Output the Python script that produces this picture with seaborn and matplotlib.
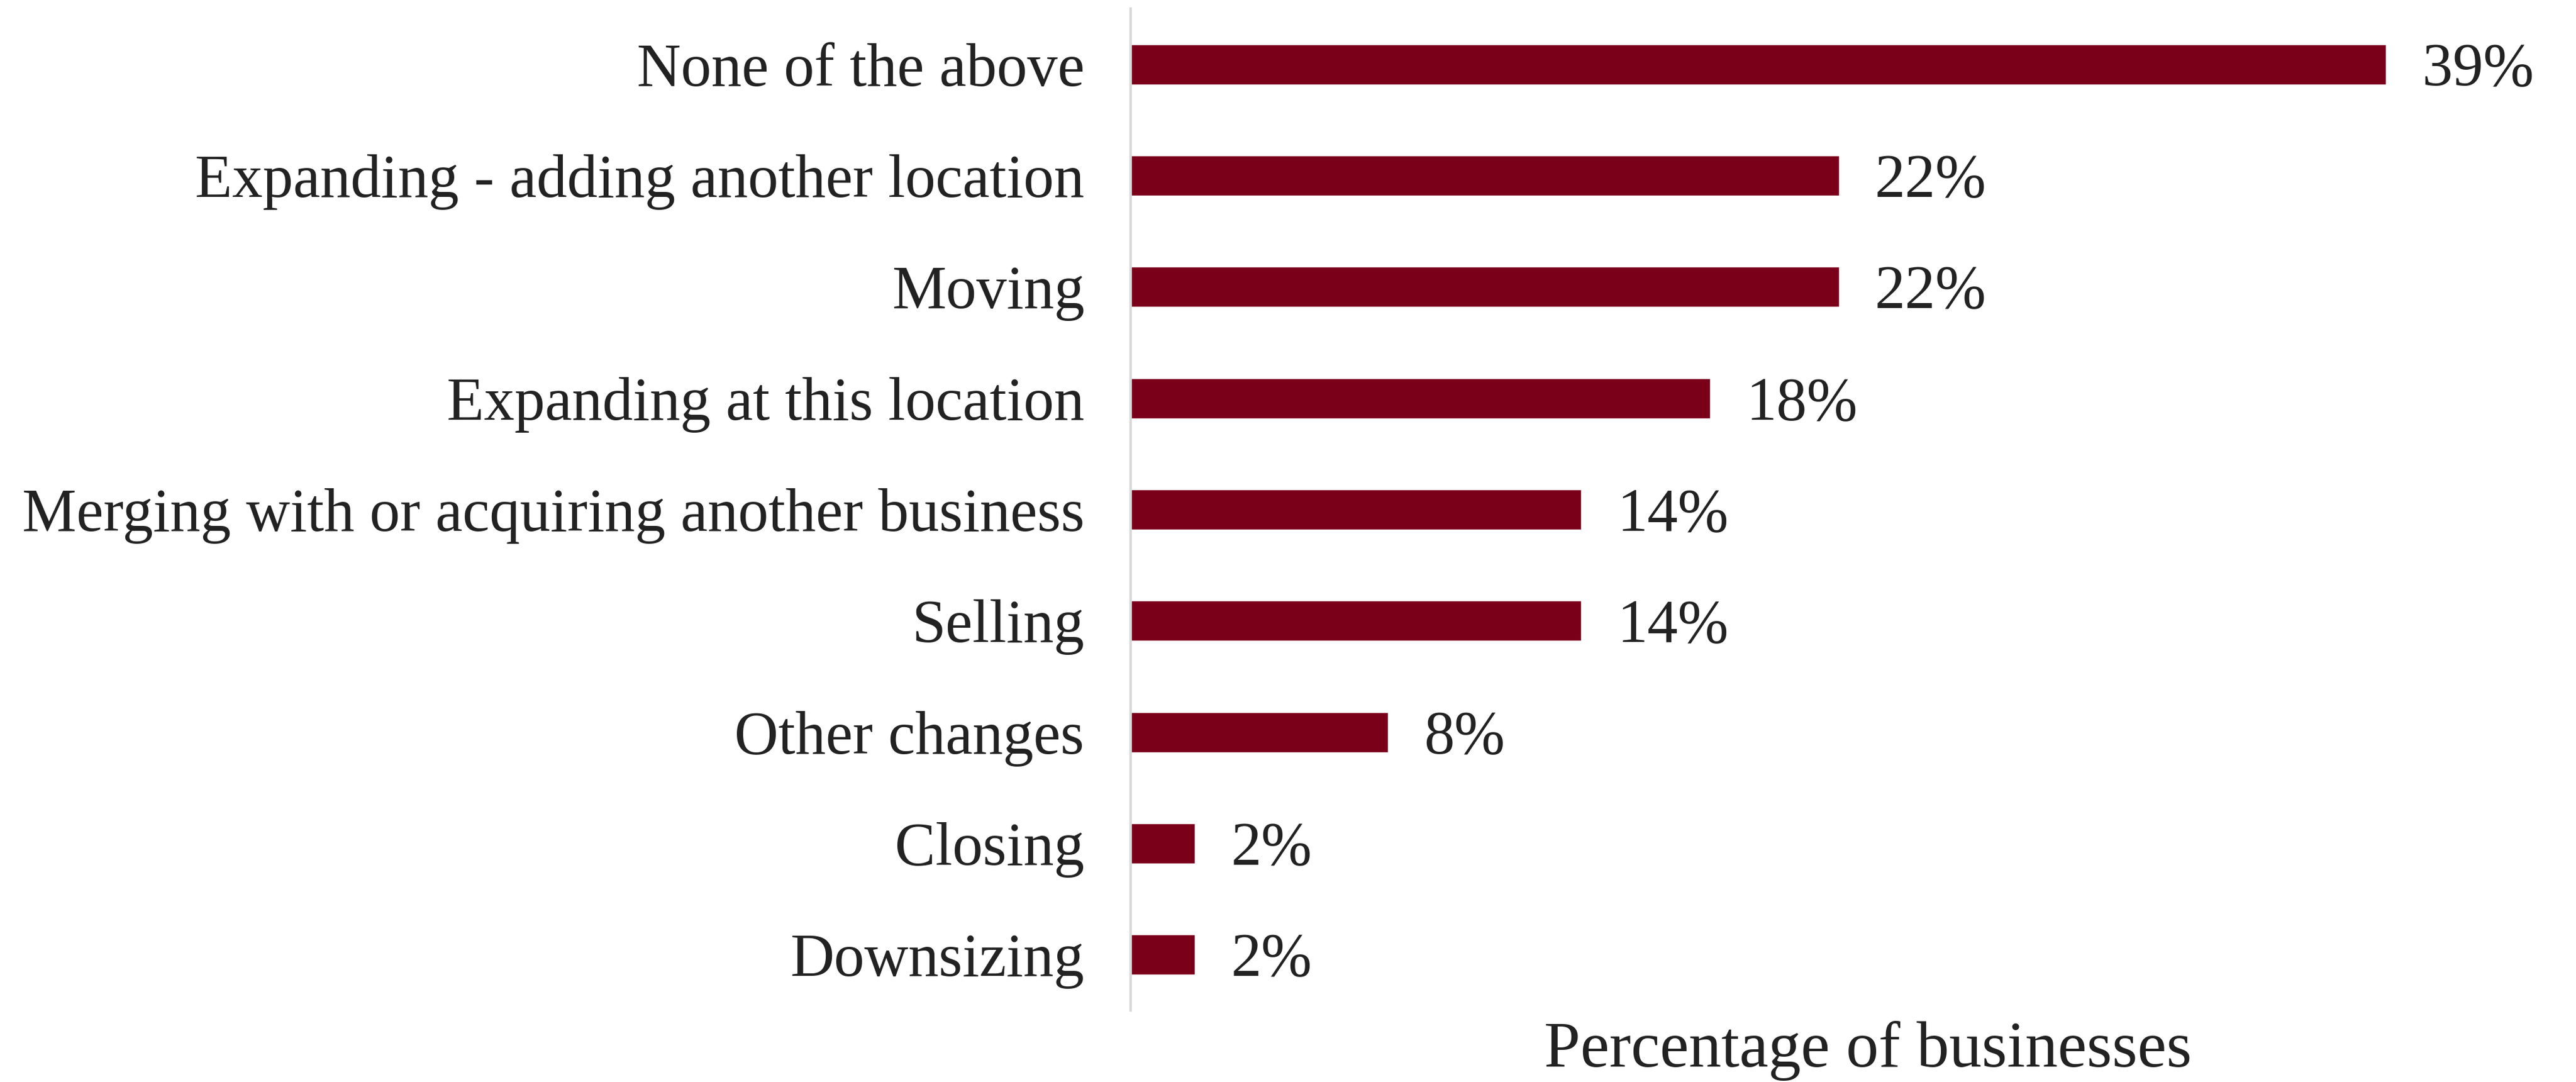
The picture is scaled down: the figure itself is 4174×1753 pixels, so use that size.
import matplotlib
matplotlib.use("Agg")
import matplotlib.pyplot as plt
import seaborn as sns
import pandas as pd

categories = [
    "None of the above",
    "Expanding - adding another location",
    "Moving",
    "Expanding at this location",
    "Merging with or acquiring another business",
    "Selling",
    "Other changes",
    "Closing",
    "Downsizing",
]
values = [39, 22, 22, 18, 14, 14, 8, 2, 2]
value_labels = ["39%", "22%", "22%", "18%", "14%", "14%", "8%", "2%", "2%"]
x_label = "Percentage of businesses"

bar_color = "#7A0019"
axis_color = "#D9D9D9"
text_color = "#222222"

df = pd.DataFrame({"category": categories, "value": values})

sns.set_theme(style="white")
plt.rcParams["font.family"] = ["Liberation Serif", "DejaVu Serif"]

DPI = 100
FS = 71
W, H = 4174, 1753
fig = plt.figure(figsize=(W / DPI, H / DPI), dpi=DPI)
ax = fig.add_axes([1832 / W, 1 - 1637 / H, 1 - 1832 / W, (1637 - 14) / H])

sns.barplot(data=df, x="value", y="category", order=categories,
            color=bar_color, saturation=1, width=0.36, ax=ax, orient="h")

ax.set_xlim(0, 44.9)
ax.set_ylim(8.5, -0.5)

# percentage labels just past each bar end
for patch, lab in zip(ax.patches, value_labels):
    ax.annotate(lab, (patch.get_width(), patch.get_y() + patch.get_height() / 2),
                xytext=(42, -7), textcoords="offset points",
                va="center", ha="left", fontsize=FS, color=text_color)

for s in ["top", "right", "bottom"]:
    ax.spines[s].set_visible(False)
ax.spines["left"].set_color(axis_color)
ax.spines["left"].set_linewidth(3)

ax.set_xticks([])
ax.tick_params(axis="y", length=0, pad=54, labelsize=FS, labelcolor=text_color)
ax.set_ylabel("")
ax.set_xlabel("")

# axis title below the plot area
fig.text((1832 + 0.51 * (W - 1832)) / W, 1 - 1728 / H, x_label,
         ha="center", va="baseline", fontsize=76, color=text_color)

fig.savefig("out.png", dpi=DPI, facecolor="white")
